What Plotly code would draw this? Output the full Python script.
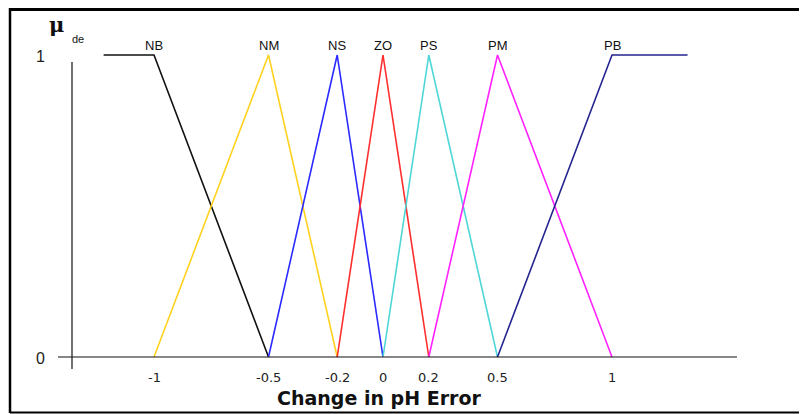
import plotly.graph_objects as go

# ---- data ----
set_names = ["NB", "NM", "NS", "ZO", "PS", "PM", "PB"]
set_colors = ["#111111", "#FFD21F", "#2B2BFF", "#FF2E2E", "#4FD6D6", "#FF22FF", "#25258F"]
nb_x = [-1.22, -1.0, -0.5]; nb_y = [1, 1, 0]
nm_x = [-1.0, -0.5, -0.2]; nm_y = [0, 1, 0]
ns_x = [-0.5, -0.2, 0.0]; ns_y = [0, 1, 0]
zo_x = [-0.2, 0.0, 0.2]; zo_y = [0, 1, 0]
ps_x = [0.0, 0.2, 0.5]; ps_y = [0, 1, 0]
pm_x = [0.2, 0.5, 1.0]; pm_y = [0, 1, 0]
pb_x = [0.5, 1.0, 1.33]; pb_y = [0, 1, 1]
peak_x = [-1.0, -0.5, -0.2, 0.0, 0.2, 0.5, 1.0]
x_tick_vals = [-1, -0.5, -0.2, 0, 0.2, 0.5, 1]
x_tick_text = ["-1", "-0.5", "-0.2", "0", "0.2", "0.5", "1"]
y_tick_vals = [0, 1]
y_tick_text = ["0", "1"]
x_title = "Change in pH Error"

OFF = 8  # page body margin
W, H = 807 - OFF, 414 - OFF
# layout mapping (page pixels): x=0 -> 383px, 229 px per unit; y=0 -> 357px, 302 px per unit
X0, SX = 383.0 - OFF, 229.0
Y0, SY = 357.0 - OFF, 302.0
xr = [(0 - X0) / SX, (W - X0) / SX]
yr = [(Y0 - H) / SY, Y0 / SY]


def dx(p):  # page pixel -> data x
    return (p - OFF - X0) / SX


def dy(p):  # page pixel -> data y
    return (Y0 - (p - OFF)) / SY


fig = go.Figure()
series = [(nb_x, nb_y), (nm_x, nm_y), (ns_x, ns_y), (zo_x, zo_y),
          (ps_x, ps_y), (pm_x, pm_y), (pb_x, pb_y)]
for name, col, (xs, ys) in zip(set_names, set_colors, series):
    fig.add_trace(go.Scatter(x=xs, y=ys, mode="lines", name=name,
                             line=dict(color=col, width=1.6), cliponaxis=False))

ann = []
for name, px in zip(set_names, peak_x):
    ann.append(dict(x=px, y=dy(45), text=name, showarrow=False,
                    font=dict(family="Liberation Sans, Arial", size=13, color="#111"),
                    xanchor="center", yanchor="middle"))
for v, t in zip(x_tick_vals, x_tick_text):
    ann.append(dict(x=v, y=dy(377), text=t, showarrow=False,
                    font=dict(family="DejaVu Sans", size=13, color="#222"),
                    xanchor="center", yanchor="middle"))
for v, t in zip(y_tick_vals, y_tick_text):
    ann.append(dict(x=dx(40), y=v - 0.005, text=t, showarrow=False,
                    font=dict(family="Liberation Sans, Arial", size=16, color="#222"),
                    xanchor="center", yanchor="middle"))
ann.append(dict(x=dx(379), y=dy(398), text="<b>" + x_title + "</b>", showarrow=False,
                font=dict(family="DejaVu Sans", size=19, color="#111"),
                xanchor="center", yanchor="middle"))
ann.append(dict(x=dx(56), y=dy(24), text="<b>μ</b>", showarrow=False,
                font=dict(family="DejaVu Serif", size=21, color="#111"),
                xanchor="center", yanchor="middle"))
ann.append(dict(x=dx(78), y=dy(39), text="de", showarrow=False,
                font=dict(family="Liberation Sans, Arial", size=11, color="#111"),
                xanchor="center", yanchor="middle"))

shapes = [
    # y axis line
    dict(type="line", xref="x", yref="y", x0=dx(72), x1=dx(72),
         y0=dy(62), y1=dy(369), line=dict(color="#111", width=1.2)),
    # x axis line
    dict(type="line", xref="x", yref="y", x0=dx(58), x1=dx(737),
         y0=0, y1=0, line=dict(color="#111", width=1.2)),
    # frame
    dict(type="line", xref="paper", yref="paper", x0=(10 - OFF) / W, x1=1.0,
         y0=1 - 1.5 / H, y1=1 - 1.5 / H, line=dict(color="#000", width=3)),
    dict(type="line", xref="paper", yref="paper", x0=(10 - OFF) / W, x1=1.0,
         y0=1 - (412.5 - OFF) / H, y1=1 - (412.5 - OFF) / H, line=dict(color="#000", width=2)),
    dict(type="line", xref="paper", yref="paper", x0=(10 - OFF) / W, x1=(10 - OFF) / W,
         y0=1.0, y1=1 - (413 - OFF) / H, line=dict(color="#000", width=2.5)),
]

fig.update_layout(
    width=W, height=H, margin=dict(l=0, r=0, t=0, b=0),
    paper_bgcolor="white", plot_bgcolor="white", showlegend=False,
    xaxis=dict(range=xr, visible=False, fixedrange=True),
    yaxis=dict(range=yr, visible=False, fixedrange=True),
    annotations=ann, shapes=shapes,
)
fig.write_html("out.html")
